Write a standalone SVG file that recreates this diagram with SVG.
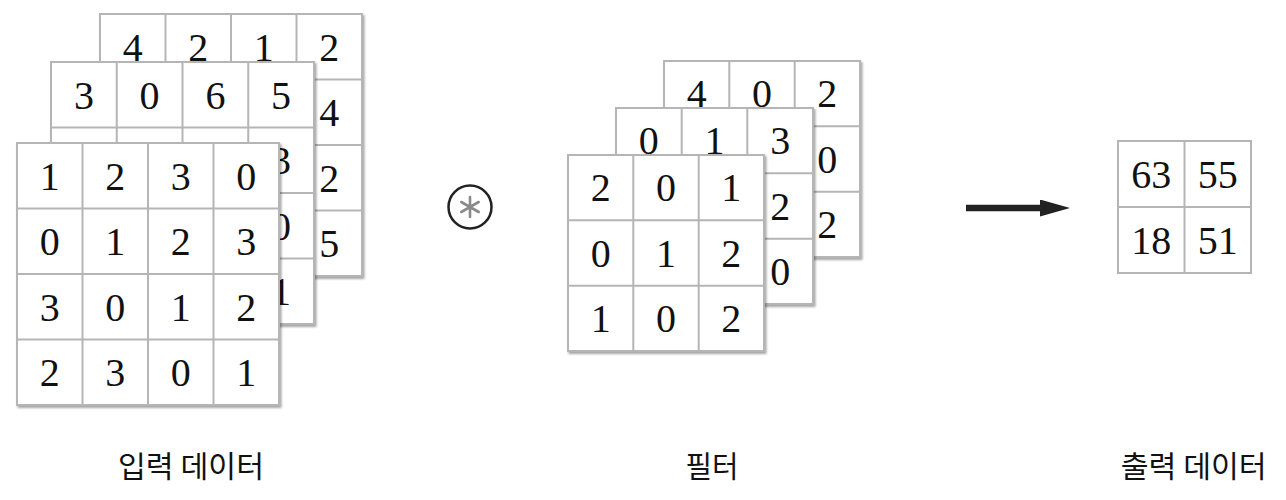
<svg xmlns="http://www.w3.org/2000/svg" width="1286" height="500" viewBox="0 0 1286 500">
<style>
.frame{fill:#fff;stroke:#b5b5b5;stroke-width:2;filter:url(#sh)}
.grid{stroke:#b5b5b5;stroke-width:2;fill:none}
.num{font-family:"Liberation Serif","Times New Roman",serif;font-size:40px;fill:#111;text-anchor:middle}
.lbl{font-family:"Noto Sans CJK KR","Noto Sans",sans-serif;font-size:30px;fill:#111;text-anchor:middle}
</style>
<defs>
<filter id="sh" x="-10%" y="-10%" width="120%" height="120%">
<feDropShadow dx="1.5" dy="2" stdDeviation="1.2" flood-color="#000" flood-opacity="0.35"/>
</filter>
<marker id="ah" markerUnits="userSpaceOnUse" markerWidth="31" markerHeight="18" refX="1" refY="8.5" orient="auto">
<path d="M0,0 L30,8.5 L0,17 Z" fill="#222"/>
</marker>
</defs>
<rect width="1286" height="500" fill="#fff"/>

<g id="input-layer3">
<rect class="frame" x="100" y="14" width="262" height="262"/>
<path class="grid" d="M165.5,14V276M231,14V276M296.5,14V276M100,79.5H362M100,145H362M100,210.5H362"/>
<text class="num" x="132.75" y="60.5">4</text>
<text class="num" x="198.25" y="60.5">2</text>
<text class="num" x="263.75" y="60.5">1</text>
<text class="num" x="329.25" y="60.5">2</text>
<text class="num" x="329.25" y="126">4</text>
<text class="num" x="329.25" y="191.5">2</text>
<text class="num" x="329.25" y="257">5</text>
</g>

<g id="input-layer2">
<rect class="frame" x="51" y="62" width="263" height="262"/>
<path class="grid" d="M116.75,62V324M182.5,62V324M248.25,62V324M51,127.5H314M51,193H314M51,258.5H314"/>
<text class="num" x="83.9" y="108.5">3</text>
<text class="num" x="149.6" y="108.5">0</text>
<text class="num" x="215.4" y="108.5">6</text>
<text class="num" x="281.1" y="108.5">5</text>
<text class="num" x="281.1" y="174">3</text>
<text class="num" x="281.1" y="239.5">0</text>
<text class="num" x="281.1" y="305">1</text>
</g>

<g id="input-layer1">
<rect class="frame" x="17" y="143" width="262" height="262"/>
<path class="grid" d="M82.5,143V405M148,143V405M213.5,143V405M17,208.5H279M17,274H279M17,339.5H279"/>
<text class="num" x="49.75" y="189.5">1</text>
<text class="num" x="115.25" y="189.5">2</text>
<text class="num" x="180.75" y="189.5">3</text>
<text class="num" x="246.25" y="189.5">0</text>
<text class="num" x="49.75" y="255">0</text>
<text class="num" x="115.25" y="255">1</text>
<text class="num" x="180.75" y="255">2</text>
<text class="num" x="246.25" y="255">3</text>
<text class="num" x="49.75" y="320.5">3</text>
<text class="num" x="115.25" y="320.5">0</text>
<text class="num" x="180.75" y="320.5">1</text>
<text class="num" x="246.25" y="320.5">2</text>
<text class="num" x="49.75" y="386">2</text>
<text class="num" x="115.25" y="386">3</text>
<text class="num" x="180.75" y="386">0</text>
<text class="num" x="246.25" y="386">1</text>
</g>

<g id="conv-operator">
<circle cx="470" cy="207" r="21.5" fill="#fff" stroke="#222" stroke-width="2.5"/>
<path d="M470,197V217M461.3,202L478.7,212M461.3,212L478.7,202" stroke="#8a8a8a" stroke-width="2.6" stroke-linecap="round" fill="none"/>
</g>

<g id="filter-layer3">
<rect class="frame" x="664" y="61" width="196" height="196"/>
<path class="grid" d="M729.3,61V257M794.7,61V257M664,126.3H860M664,191.7H860"/>
<text class="num" x="696.7" y="107">4</text>
<text class="num" x="762" y="107">0</text>
<text class="num" x="827.3" y="107">2</text>
<text class="num" x="827.3" y="172.5">0</text>
<text class="num" x="827.3" y="237.8">2</text>
</g>

<g id="filter-layer2">
<rect class="frame" x="616" y="108" width="197" height="196"/>
<path class="grid" d="M681.7,108V304M747.3,108V304M616,173.3H813M616,238.7H813"/>
<text class="num" x="648.8" y="154">0</text>
<text class="num" x="714.5" y="154">1</text>
<text class="num" x="780.2" y="154">3</text>
<text class="num" x="780.2" y="219.5">2</text>
<text class="num" x="780.2" y="284.8">0</text>
</g>

<g id="filter-layer1">
<rect class="frame" x="568" y="155" width="196" height="196"/>
<path class="grid" d="M633.3,155V351M698.7,155V351M568,220.3H764M568,285.7H764"/>
<text class="num" x="600.7" y="201">2</text>
<text class="num" x="666" y="201">0</text>
<text class="num" x="731.3" y="201">1</text>
<text class="num" x="600.7" y="266.5">0</text>
<text class="num" x="666" y="266.5">1</text>
<text class="num" x="731.3" y="266.5">2</text>
<text class="num" x="600.7" y="331.8">1</text>
<text class="num" x="666" y="331.8">0</text>
<text class="num" x="731.3" y="331.8">2</text>
</g>

<g id="connectors">
<line x1="966" y1="208" x2="1041" y2="208" stroke="#222" stroke-width="6.5" marker-end="url(#ah)"/>
</g>

<g id="output">
<rect x="1118" y="141" width="133" height="132" fill="#fff" stroke="#b5b5b5" stroke-width="2"/>
<path class="grid" d="M1184.5,141V273M1118,207H1251"/>
<text class="num" x="1151.25" y="187.5">63</text>
<text class="num" x="1217.75" y="187.5">55</text>
<text class="num" x="1151.25" y="253.5">18</text>
<text class="num" x="1217.75" y="253.5">51</text>
</g>

<g id="labels">
<text class="lbl" x="191" y="477" textLength="146" lengthAdjust="spacingAndGlyphs">입력 데이터</text>
<text class="lbl" x="712" y="477" textLength="53" lengthAdjust="spacingAndGlyphs">필터</text>
<text class="lbl" x="1193.7" y="477" textLength="146" lengthAdjust="spacingAndGlyphs">출력 데이터</text>
</g>
</svg>
